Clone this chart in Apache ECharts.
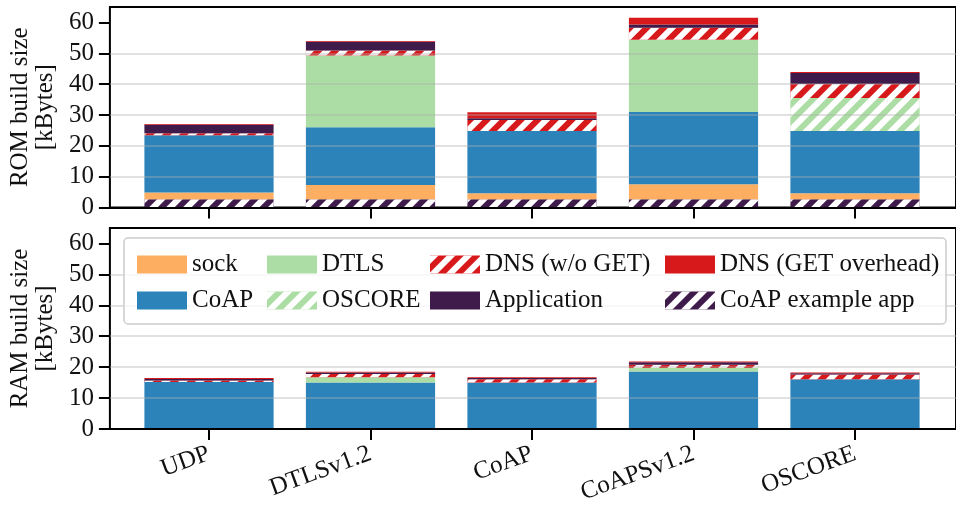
<!DOCTYPE html>
<html>
<head>
<meta charset="utf-8">
<script src="https://cdn.jsdelivr.net/npm/echarts@6/dist/echarts.min.js"></script>
<style>
  html, body { margin: 0; padding: 0; background: #fff; }
  #chart { width: 956px; height: 507px; }
</style>
</head>
<body>
<div id="chart"></div>
<script>
// Build sizes per network stack configuration (kBytes)
const categories = ['UDP', 'DTLSv1.2', 'CoAP', 'CoAPSv1.2', 'OSCORE'];
const yTicks = [0, 10, 20, 30, 40, 50, 60];

// ROM
const romExampleApp  = [2.7, 2.7, 2.7, 2.7, 2.7];
const romSock        = [2.2, 4.6, 1.9, 4.8, 1.9];
const romCoap        = [18.5, 18.7, 20.2, 23.5, 20.2];
const romDtls        = [0, 23.3, 0, 23.4, 0];
const romOscore      = [0, 0, 0, 0, 10.7];
const romDnsNoGet    = [0.7, 1.6, 3.6, 3.9, 4.5];
const romApplication = [2.7, 2.8, 0.55, 1.0, 3.6];
const romDnsGet      = [0.3, 0.3, 1.95, 2.2, 0.3];

// RAM
const ramExampleApp  = [0, 0, 0, 0, 0];
const ramSock        = [0, 0, 0, 0, 0];
const ramCoap        = [15.2, 15.0, 15.0, 18.6, 16.1];
const ramDtls        = [0, 1.7, 0, 1.1, 0];
const ramOscore      = [0, 0, 0, 0, 0];
const ramDnsNoGet    = [0.5, 1.1, 1.1, 1.1, 1.5];
const ramApplication = [0.5, 0.5, 0.4, 0.75, 0.45];
const ramDnsGet      = [0.3, 0.2, 0.25, 0.3, 0.2];

const FONT = 'Liberation Serif';
const TEXT = '#111111';

// diagonal white hatching for the "///" layers
const hatch = {
  symbol: 'rect',
  symbolSize: 1,
  color: '#ffffff',
  dashArrayX: [1, 0],
  dashArrayY: [6, 6],
  rotation: -Math.PI / 4
};

// stacking order, bottom to top
const layers = [
  { name: 'CoAP example app', color: '#3f1b4c', hatched: true,  rom: romExampleApp,  ram: ramExampleApp },
  { name: 'sock',             color: '#fdae61', hatched: false, rom: romSock,        ram: ramSock },
  { name: 'CoAP',             color: '#2b83ba', hatched: false, rom: romCoap,        ram: ramCoap },
  { name: 'DTLS',             color: '#abdda4', hatched: false, rom: romDtls,        ram: ramDtls },
  { name: 'OSCORE',           color: '#abdda4', hatched: true,  rom: romOscore,      ram: ramOscore },
  { name: 'DNS (w/o GET)',    color: '#d7191c', hatched: true,  rom: romDnsNoGet,    ram: ramDnsNoGet },
  { name: 'Application',      color: '#3f1b4c', hatched: false, rom: romApplication, ram: ramApplication },
  { name: 'DNS (GET overhead)', color: '#d7191c', hatched: false, rom: romDnsGet,    ram: ramDnsGet }
];

const panels = [
  { key: 'rom', label: 'ROM build size\n[kBytes]', top: 7,   bottom: 299.5, showLabels: false },
  { key: 'ram', label: 'RAM build size\n[kBytes]', top: 228, bottom: 78,    showLabels: true }
];

const grids = [], xAxes = [], yAxes = [], series = [];

panels.forEach((p, i) => {
  const frame = i * 2, bars = i * 2 + 1;
  // frame grid: box, y axis and gridlines across the full plot width
  grids.push({ left: 106, right: -2, top: p.top, bottom: p.bottom, show: true,
               borderColor: '#000', borderWidth: 2, backgroundColor: 'transparent' });
  // bar grid: category bands
  grids.push({ left: 128.25, right: 20.25, top: p.top, bottom: p.bottom });

  // bottom spine over the full frame width
  xAxes.push({
    gridIndex: frame, type: 'value', min: 0, max: 1, z: 3,
    axisLine: { show: true, onZero: false, lineStyle: { color: '#000', width: 2 } },
    axisTick: { show: false }, axisLabel: { show: false }, splitLine: { show: false }
  });
  xAxes.push({
    gridIndex: bars, type: 'category', data: categories, z: 3,
    axisLine: { show: true, lineStyle: { color: '#000', width: 2 } },
    axisTick: { show: true, alignWithLabel: true, length: 11, lineStyle: { color: '#000', width: 2 } },
    axisLabel: { show: p.showLabels, interval: 0, rotate: 20, margin: 24,
                 fontFamily: FONT, fontSize: 25, color: TEXT },
    splitLine: { show: false }
  });

  yAxes.push({
    gridIndex: frame, type: 'value', min: 0, max: 65, interval: 10, z: 3,
    name: p.label, nameLocation: 'middle', nameGap: 48,
    nameTextStyle: { fontFamily: FONT, fontSize: 25, color: TEXT, lineHeight: 25 },
    axisLine: { show: false },
    axisTick: { show: true, length: 11, customValues: yTicks, lineStyle: { color: '#000', width: 2 } },
    axisLabel: { customValues: yTicks, margin: 16, fontFamily: FONT, fontSize: 25, color: TEXT },
    splitLine: { show: true, showMinLine: false, showMaxLine: false,
                 lineStyle: { color: 'rgba(176,176,176,0.5)', width: 1.5 } }
  });
  yAxes.push({ gridIndex: bars, type: 'value', min: 0, max: 65, show: false });

  layers.forEach(l => {
    series.push({
      type: 'bar', name: l.name, stack: p.key,
      xAxisIndex: bars, yAxisIndex: bars,
      barWidth: '80%',
      data: l[p.key],
      itemStyle: Object.assign({ color: l.color }, l.hatched ? { decal: hatch } : {}),
      emphasis: { disabled: true }
    });
  });
});

// four legend columns, two entries each
const legendColumns = [
  { left: 132, data: ['sock', 'CoAP'] },
  { left: 262, data: ['DTLS', 'OSCORE'] },
  { left: 425, data: ['DNS (w/o GET)', 'Application'] },
  { left: 660, data: ['DNS (GET overhead)', 'CoAP example app'] }
];

const legends = legendColumns.map(c => ({
  left: c.left, top: 247, orient: 'vertical', z: 8,
  data: c.data, icon: 'rect', itemWidth: 50, itemHeight: 18, itemGap: 11,
  selectedMode: false,
  textStyle: { fontFamily: FONT, fontSize: 25, color: TEXT, lineHeight: 20 }
}));

const chart = echarts.init(document.getElementById('chart'), null, { renderer: 'canvas' });
chart.setOption({
  animation: false,
  backgroundColor: '#ffffff',
  grid: grids,
  xAxis: xAxes,
  yAxis: yAxes,
  legend: legends,
  graphic: [{
    type: 'rect', z: 6,
    shape: { x: 124, y: 238, width: 822, height: 86, r: 4 },
    style: { fill: 'rgba(255,255,255,0.8)', stroke: '#cccccc', lineWidth: 1.5 }
  }],
  series: series
});
</script>
</body>
</html>
